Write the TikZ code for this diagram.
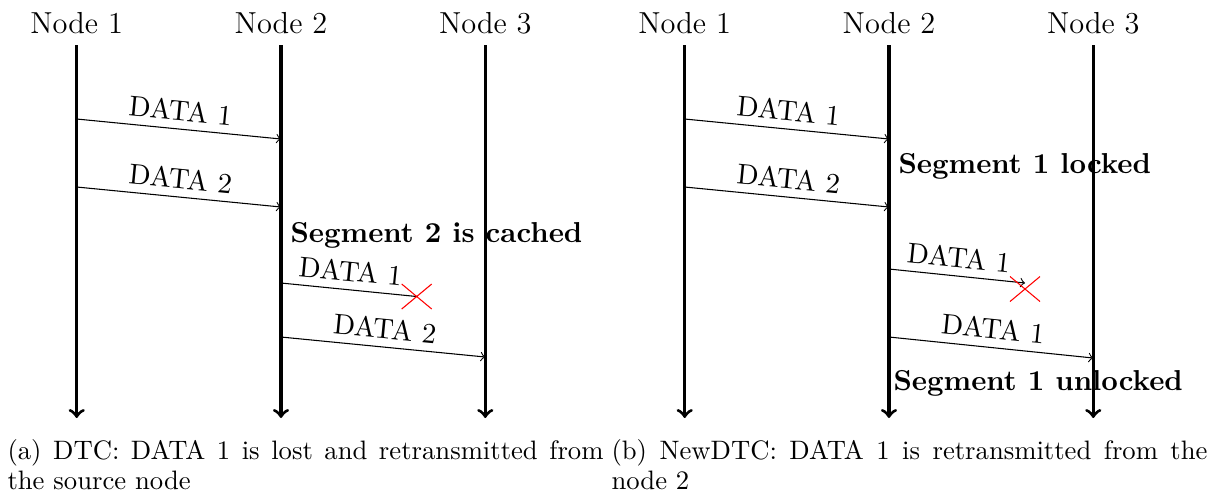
\documentclass[tikz,border=0pt]{standalone}
\usepackage{fontspec}
\begin{document}
\begin{tikzpicture}[x=0.375pt,y=-0.375pt,
  lifeline/.style={line width=1.2pt,->},
  msg/.style={->,line width=0.4pt},
  lostmsg/.style={line width=0.4pt},
  hostname/.style={font=\fontsize{11.4}{13.7}\selectfont, anchor=base, inner sep=0pt},
  msglabel/.style={midway, sloped, above, inner sep=3pt, font=\fontsize{10.7}{12.8}\selectfont},
  status/.style={font=\fontsize{10.8}{13}\selectfont\bfseries, anchor=base west, inner sep=0pt},
  drop/.style={red, line width=0.4pt},
  subcap/.style={anchor=base west, inner sep=0pt, font=\fontsize{10}{11.25}\selectfont, align=left}
]
\useasboundingbox (0,0) rectangle (1217,496);

% ---------- (a) DTC ----------
\foreach \i/\x in {1/76.7,2/281,3/485.3}{
  \node[hostname] (la\i) at (\x,33) {Node \i};
  \coordinate (ta\i) at (\x,45);
  \coordinate (ba\i) at (\x,418);
  \draw[lifeline] (ta\i) -- (ba\i);
}
\coordinate (a1s) at (76.7,119);  \coordinate (a1e) at (281,139);
\coordinate (a2s) at (76.7,187);  \coordinate (a2e) at (281,207);
\coordinate (a3s) at (281,283);   \coordinate (a3e) at (416.7,296.5);
\coordinate (a4s) at (281,337);   \coordinate (a4e) at (485.3,357);

\draw[msg] (a1s) -- node[msglabel] {DATA 1} (a1e);
\draw[msg] (a2s) -- node[msglabel] {DATA 2} (a2e);
\node[status] (cacheda) at (290,242) {Segment 2 is cached};
\draw[lostmsg] (a3s) -- node[msglabel] {DATA 1} (a3e);
\draw[drop] (a3e) +(-15,-12.5) -- +(15,12.5)
            (a3e) +(-15,12.5) -- +(15,-12.5);
\draw[msg] (a4s) -- node[msglabel] {DATA 2} (a4e);

% the base anchor of a two-line node sits on its last line
\node[subcap] (capa) at (7,489)
  {\makebox[223.5pt][s]{(a) DTC: DATA 1 is lost and retransmitted from}\\the source node};

% ---------- (b) NewDTC ----------
\foreach \i/\x in {1/684.7,2/889,3/1093.3}{
  \node[hostname] (lb\i) at (\x,33) {Node \i};
  \coordinate (tb\i) at (\x,45);
  \coordinate (bb\i) at (\x,418);
  \draw[lifeline] (tb\i) -- (bb\i);
}
\coordinate (b1s) at (684.7,119); \coordinate (b1e) at (889,139);
\coordinate (b2s) at (684.7,187); \coordinate (b2e) at (889,207);
\coordinate (b3s) at (889,269);   \coordinate (b3e) at (1025,283);
\coordinate (bx)  at (1025,289);
\coordinate (b4s) at (889,337);   \coordinate (b4e) at (1093.3,358);

\draw[msg] (b1s) -- node[msglabel] {DATA 1} (b1e);
\node[status] (lockb) at (898,173) {Segment 1 locked};
\draw[msg] (b2s) -- node[msglabel] {DATA 2} (b2e);
\draw[msg] (b3s) -- node[msglabel] {DATA 1} (b3e);
\draw[drop] (bx) +(-15,-12.5) -- +(15,12.5)
            (bx) +(-15,12.5) -- +(15,-12.5);
\draw[msg] (b4s) -- node[msglabel] {DATA 1} (b4e);
\node[status] (unlockb) at (893,390) {Segment 1 unlocked};

\node[subcap] (capb) at (611,489)
  {\makebox[223.5pt][s]{(b) NewDTC: DATA 1 is retransmitted from the}\\node 2};
\end{tikzpicture}
\end{document}
